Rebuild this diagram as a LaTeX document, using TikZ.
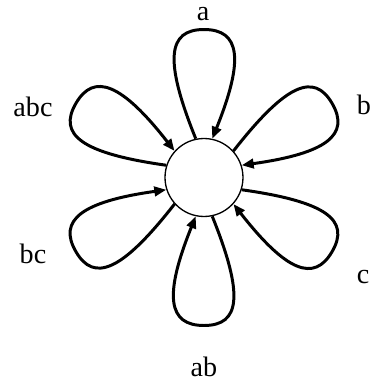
\documentclass[tikz,border=0pt]{standalone}
\usepackage{fontspec}
\setmainfont{Liberation Serif}
\usetikzlibrary{arrows.meta}

\begin{document}
\begin{tikzpicture}[x=0.02cm, y=0.02cm,
  petal/.style={line width=1.7pt, -{Triangle[length=2.4mm, width=1.9mm]}},
  lbl/.style={font=\fontsize{16}{18}\selectfont, inner sep=0pt}]
  \useasboundingbox (-204,-205.5) rectangle (169,177.5);

  % Hub state
  \node[draw, circle, line width=0.75pt, minimum size=1.56cm, inner sep=0pt] (hub) at (0,0) {};

  % Petal tips
  \coordinate (ta) at (90:148);
  \coordinate (tb) at (30:148);
  \coordinate (tc) at (-30:148);
  \coordinate (tab) at (-90:148);
  \coordinate (tbc) at (210:148);
  \coordinate (tabc) at (150:148);

  % Self loops
  \draw[petal] (hub.102) .. controls +(112:86) and +(180:36) .. (ta) .. controls +(0:36) and +(68:86) .. (hub.78);
  \draw[petal] (hub.42) .. controls +(52:86) and +(120:36) .. (tb) .. controls +(-60:36) and +(8:86) .. (hub.18);
  \draw[petal] (hub.-18) .. controls +(-8:86) and +(60:36) .. (tc) .. controls +(-120:36) and +(-52:86) .. (hub.-42);
  \draw[petal] (hub.-78) .. controls +(-68:86) and +(0:36) .. (tab) .. controls +(180:36) and +(-112:86) .. (hub.258);
  \draw[petal] (hub.222) .. controls +(232:86) and +(300:36) .. (tbc) .. controls +(120:36) and +(188:86) .. (hub.198);
  \draw[petal] (hub.162) .. controls +(172:86) and +(240:36) .. (tabc) .. controls +(60:36) and +(128:86) .. (hub.138);

  % Labels
  \node[lbl] (la) at (-1,163.5) {a};
  \node[lbl] (lb) at (160,72.5) {b};
  \node[lbl] (lc) at (159,-99.5) {c};
  \node[lbl] (lab) at (0,-189.5) {ab};
  \node[lbl] (lbc) at (-171,-76.5) {bc};
  \node[lbl] (labc) at (-171,70.5) {abc};
\end{tikzpicture}
\end{document}
